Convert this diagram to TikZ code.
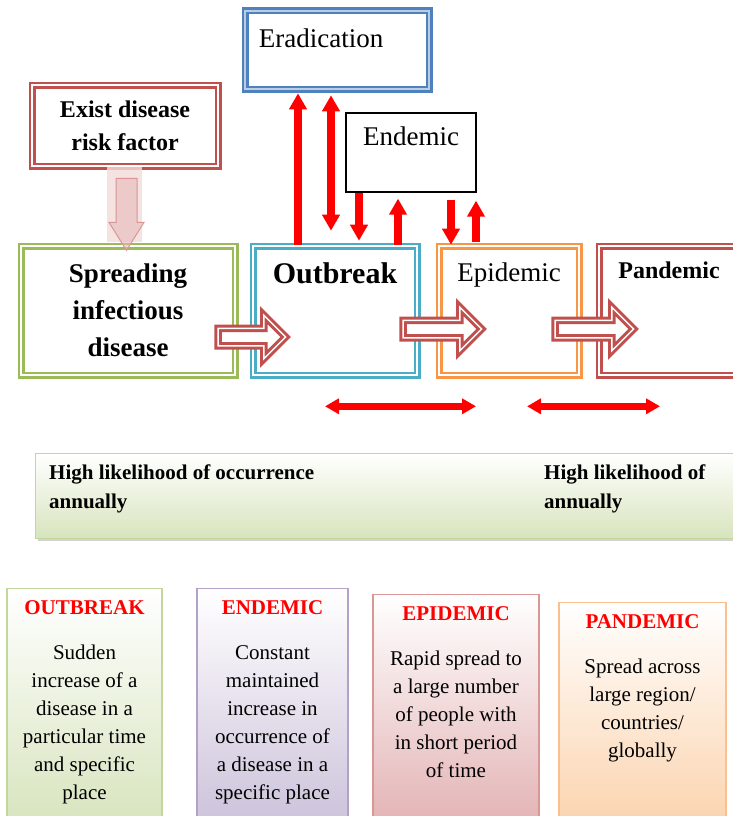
\documentclass[tikz,border=0pt]{standalone}
\usepackage{fontspec}
\setmainfont{Liberation Serif}
\usetikzlibrary{positioning,calc,arrows.meta,shapes.arrows,shadows}

\definecolor{framered}{HTML}{C0504D}
\definecolor{frameblue}{HTML}{4F81BD}
\definecolor{eradgap}{HTML}{B9CDE5}
\definecolor{framegreen}{HTML}{9BBB59}
\definecolor{framecyan}{HTML}{4BACC6}
\definecolor{frameorange}{HTML}{F79646}
\definecolor{glowpink}{HTML}{F2DCDB}
\definecolor{arrowpink}{HTML}{E6B9B8}
\definecolor{linepink}{HTML}{D99694}
\definecolor{bannergreen}{HTML}{D7E4BD}
\definecolor{bannerline}{HTML}{C3D69B}
\definecolor{cardgreen}{HTML}{D7E4BD}
\definecolor{cardgreenline}{HTML}{C3D69B}
\definecolor{cardpurple}{HTML}{CCC1DA}
\definecolor{cardpurpleline}{HTML}{B3A2C7}
\definecolor{cardred}{HTML}{E2AFB1}
\definecolor{cardredline}{HTML}{D99694}
\definecolor{cardorange}{HTML}{FBD0A8}
\definecolor{cardorangeline}{HTML}{FAC090}

\tikzset{
    dblframe/.style={draw=#1, line width=2.6pt, double=white, double distance=1.8pt,
        minimum height=129pt, inner sep=0pt},
    hollow/.style={single arrow, draw=framered, line width=3pt, double=white,
        double distance=1.5pt, fill=white, inner sep=7.25pt, single arrow head extend=13pt},
    redline/.style={draw=red, line width=8pt},
    uptip/.style={-{Triangle[width=17pt,length=16pt]}},
    banner/.style={draw=bannerline, line width=1pt, top color=white, bottom color=bannergreen,
        drop shadow={opacity=0.35, shadow xshift=2pt, shadow yshift=-2pt}},
    bannertext/.style={font=\bfseries\fontsize{21}{29}\selectfont, align=left, inner sep=0pt},
    card/.style={draw=#1line, line width=1.2pt, top color=white, bottom color=#1,
        anchor=north, minimum height=240pt},
    cardtext/.style={align=center, font=\fontsize{21}{28}\selectfont, inner sep=0pt, anchor=north}
}

\begin{document}
\begin{tikzpicture}[x=1pt, y=-1pt]
    \clip (0,0) rectangle (733,816);

    % upper boxes
    \node[dblframe=frameblue, double=eradgap, minimum width=184pt, minimum height=78pt] (erad) at (337,50) {};
    \node[font=\fontsize{27}{32}\selectfont, anchor=west, inner sep=0pt] (eradtxt)
        at ([xshift=15pt,yshift=12pt]erad.west) {Eradication};

    \node[dblframe=framered, minimum width=186pt, minimum height=81pt, align=center,
        font=\bfseries\fontsize{24}{33}\selectfont] (risk) at (125,125.5) {Exist disease\\risk factor};

    \node[draw=black, line width=1.3pt, minimum width=130pt, minimum height=79pt] (endemic) at (411,152.5) {};
    \node[font=\fontsize{27}{32}\selectfont] (endemictxt) at ([yshift=-24pt]endemic.north) {Endemic};

    % main row
    \node[dblframe=framegreen, minimum width=214pt, align=center,
        font=\bfseries\fontsize{27}{37}\selectfont] (spread) at (128,310.5) {Spreading\\infectious\\disease};
    \node[dblframe=framecyan, minimum width=164pt] (outbreak) at (335,310.5) {};
    \node[dblframe=frameorange, minimum width=140pt] (epidemic) at (509,310.5) {};
    \node[dblframe=framered, minimum width=162pt] (pandemic) at (680,310.5) {};

    \node[font=\bfseries\fontsize{30}{36}\selectfont] (outbreaktxt) at ([yshift=-29pt]outbreak.north) {Outbreak};
    \node[font=\fontsize{27}{32}\selectfont] (epidemictxt) at ([yshift=-30pt]epidemic.north) {Epidemic};
    \node[font=\bfseries\fontsize{24}{29}\selectfont] (pandemictxt) at ([xshift=-11pt,yshift=-26pt]pandemic.north) {Pandemic};

    % risk factor feeds the spread
    \fill[glowpink, opacity=0.8] ([xshift=-18pt]risk.south) rectangle ([xshift=17pt,yshift=3pt]risk.south |- spread.north);
    \node[single arrow, shape border rotate=270, fill=arrowpink, fill opacity=0.6, draw=linepink,
        line width=1pt, inner sep=10pt, single arrow head extend=7pt, single arrow tip angle=64,
        minimum height=72pt] (riskarrow) at ($(risk.south)!0.5!(spread.north)$) {};

    % hollow arrows along the row
    \node[hollow, minimum height=67.5pt] (hollowa) at (247.5,337) {};
    \node[hollow, minimum height=78.5pt] (hollowb) at (438,329) {};
    \node[hollow, minimum height=78.5pt] (hollowc) at (590,329) {};

    % red arrows between the stages
    \draw[redline, uptip] ([xshift=-37pt]outbreak.north) -- ([xshift=-39pt,yshift=-3pt]erad.south);
    \draw[redline, {Triangle[width=17pt,length=16pt]}-{Triangle[width=17pt,length=16pt]}]
        ([xshift=-4pt,yshift=14pt]outbreak.north) -- ([xshift=-6pt,yshift=-5pt]erad.south);
    \draw[redline, uptip] ([xshift=-52pt]endemic.south) -- ([xshift=24pt,yshift=4pt]outbreak.north);
    \draw[redline, uptip] ([xshift=63pt]outbreak.north) -- ([xshift=-13pt,yshift=-6pt]endemic.south);
    \draw[redline, uptip] ([xshift=40pt,yshift=-7pt]endemic.south) -- ([xshift=-58pt]epidemic.north);
    \draw[redline, uptip] ([xshift=-33pt,yshift=3pt]epidemic.north) -- ([xshift=65pt,yshift=-8pt]endemic.south);

    \draw[redline, line width=7pt, {Triangle[width=15pt,length=14pt]}-{Triangle[width=15pt,length=14pt]}]
        ([xshift=-10pt,yshift=-30pt]outbreak.south) -- ([xshift=-33pt,yshift=-30pt]epidemic.south);
    \draw[redline, line width=7pt, {Triangle[width=15pt,length=14pt]}-{Triangle[width=15pt,length=14pt]}]
        ([xshift=18pt,yshift=-30pt]epidemic.south) -- ([xshift=-20pt,yshift=-30pt]pandemic.south);

    % likelihood banner
    \node[banner, anchor=north west, minimum width=720pt, minimum height=85pt] (likely) at (35,453) {};
    \node[bannertext, anchor=north west] (likelyleft) at ([xshift=14pt,yshift=-12pt]likely.north west)
        {High likelihood of occurrence\\annually};
    \node[bannertext, anchor=north west] (likelyright) at ([xshift=509pt,yshift=-12pt]likely.north west)
        {High likelihood of\\annually};

    % definition cards
    \node[card=cardgreen, minimum width=155pt] (ocard) at (84.5,588) {};
    \node[card=cardpurple, minimum width=151pt] (ncard) at (272.5,588) {};
    \node[card=cardred, minimum width=166pt] (ecard) at (456,594) {};
    \node[card=cardorange, minimum width=167pt] (pcard) at (642.5,602) {};

    \node[cardtext] (otext) at ([yshift=-12pt]ocard.north)
        {\textcolor{red}{\textbf{OUTBREAK}}\\[17pt]Sudden\\increase of a\\disease in a\\particular time\\and specific\\place};
    \node[cardtext] (ntext) at ([yshift=-12pt]ncard.north)
        {\textcolor{red}{\textbf{ENDEMIC}}\\[17pt]Constant\\maintained\\increase in\\occurrence of\\a disease in a\\specific place};
    \node[cardtext] (etext) at ([yshift=-12pt]ecard.north)
        {\textcolor{red}{\textbf{EPIDEMIC}}\\[17pt]Rapid spread to\\a large number\\of people with\\in short period\\of time};
    \node[cardtext] (ptext) at ([yshift=-12pt]pcard.north)
        {\textcolor{red}{\textbf{PANDEMIC}}\\[17pt]Spread across\\large region/\\countries/\\globally};
\end{tikzpicture}
\end{document}
